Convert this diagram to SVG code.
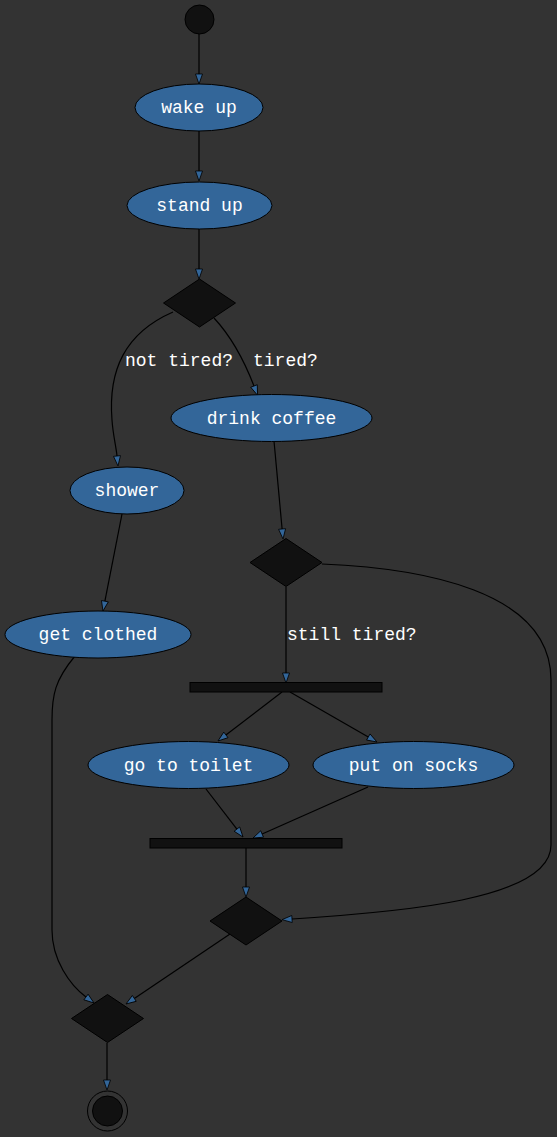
<svg xmlns="http://www.w3.org/2000/svg" width="557" height="1137" viewBox="0 0 557 1137">
<style>
.act ellipse{fill:#336699;stroke:#000;stroke-width:1}
.dec polygon{fill:#111;stroke:#000;stroke-width:1}
.bar rect{fill:#111;stroke:#000;stroke-width:1}
text{font-family:"Liberation Mono","Courier New",monospace;font-size:18px;fill:#fff}
.act text{text-anchor:middle}
.edges path{fill:none;stroke:#000;stroke-width:1.2;marker-end:url(#arr)}
</style>
<defs>
<marker id="arr" viewBox="0 0 10 7" refX="0" refY="3.5" markerWidth="10" markerHeight="7" markerUnits="userSpaceOnUse" orient="auto" overflow="visible">
<path d="M0,0 L10,3.5 L0,7 z" fill="#336699" stroke="#000" stroke-width="0.8"/>
</marker>
</defs>
<rect x="0" y="0" width="557" height="1137" fill="#333"/>
<g class="edges" id="edges">
<path d="M199,34 L199,74"/>
<path d="M199,131 L199,171"/>
<path d="M199,229 L199,269"/>
<path d="M214,318 C228,333 242,355 254,386"/>
<path d="M173,312 C125,333 108,370 112,420 C113,435 116,446 117,456"/>
<path d="M122,514 L104.9,601.2"/>
<path d="M274,441 L282.1,529"/>
<path d="M286,587 L286,673"/>
<path d="M322,564 C420,568 551,590 551,680 L551,845 C551,900 400,912 292,919"/>
<path d="M282,692 L225.9,734.9"/>
<path d="M290,692 L368.3,737"/>
<path d="M206,789 L236.9,829.1"/>
<path d="M368,787 L262.1,834"/>
<path d="M246,848 L246,887"/>
<path d="M230,934 L134.3,998.4"/>
<path d="M75,656 C55,680 52,695 52,720 L52,930 C52,960 70,985 86,997"/>
<path d="M107,1043 L107,1080"/>
</g>
<g id="labels">
<text x="125" y="366">not tired?</text>
<text x="253" y="366">tired?</text>
<text x="287" y="640">still tired?</text>
</g>
<g id="start"><circle cx="199.5" cy="19.5" r="14.5" fill="#111" stroke="#000"/></g>
<g id="wake_up" class="act"><ellipse cx="199" cy="107.5" rx="64" ry="23.5"/><text x="199" y="113">wake up</text></g>
<g id="stand_up" class="act"><ellipse cx="199.5" cy="205.5" rx="72.5" ry="23.5"/><text x="199.5" y="211">stand up</text></g>
<g id="dec1" class="dec"><polygon points="199.5,279 235.5,303 199.5,327 163.5,303"/></g>
<g id="drink_coffee" class="act"><ellipse cx="271.5" cy="418" rx="100.5" ry="23.5"/><text x="271.5" y="423.5">drink coffee</text></g>
<g id="shower" class="act"><ellipse cx="127" cy="490.5" rx="57" ry="23.5"/><text x="127" y="496">shower</text></g>
<g id="get_clothed" class="act"><ellipse cx="98" cy="634.5" rx="93" ry="23.5"/><text x="98" y="640">get clothed</text></g>
<g id="dec2" class="dec"><polygon points="286,538.5 322,562.5 286,586.5 250,562.5"/></g>
<g id="fork" class="bar"><rect x="190" y="682.5" width="192" height="9.5"/></g>
<g id="go_to_toilet" class="act"><ellipse cx="188.5" cy="765" rx="100.5" ry="23.5"/><text x="188.5" y="770.5">go to toilet</text></g>
<g id="put_on_socks" class="act"><ellipse cx="413.5" cy="765" rx="100.5" ry="23.5"/><text x="413.5" y="770.5">put on socks</text></g>
<g id="join" class="bar"><rect x="150" y="838.5" width="192" height="9.5"/></g>
<g id="dec3" class="dec"><polygon points="246,897 282,921 246,945 210,921"/></g>
<g id="dec4" class="dec"><polygon points="107.5,994.5 143.5,1018.5 107.5,1042.5 71.5,1018.5"/></g>
<g id="end"><circle cx="107.5" cy="1111" r="20" fill="none" stroke="#000"/><circle cx="107.5" cy="1111" r="15" fill="#111" stroke="#000"/></g>
</svg>
